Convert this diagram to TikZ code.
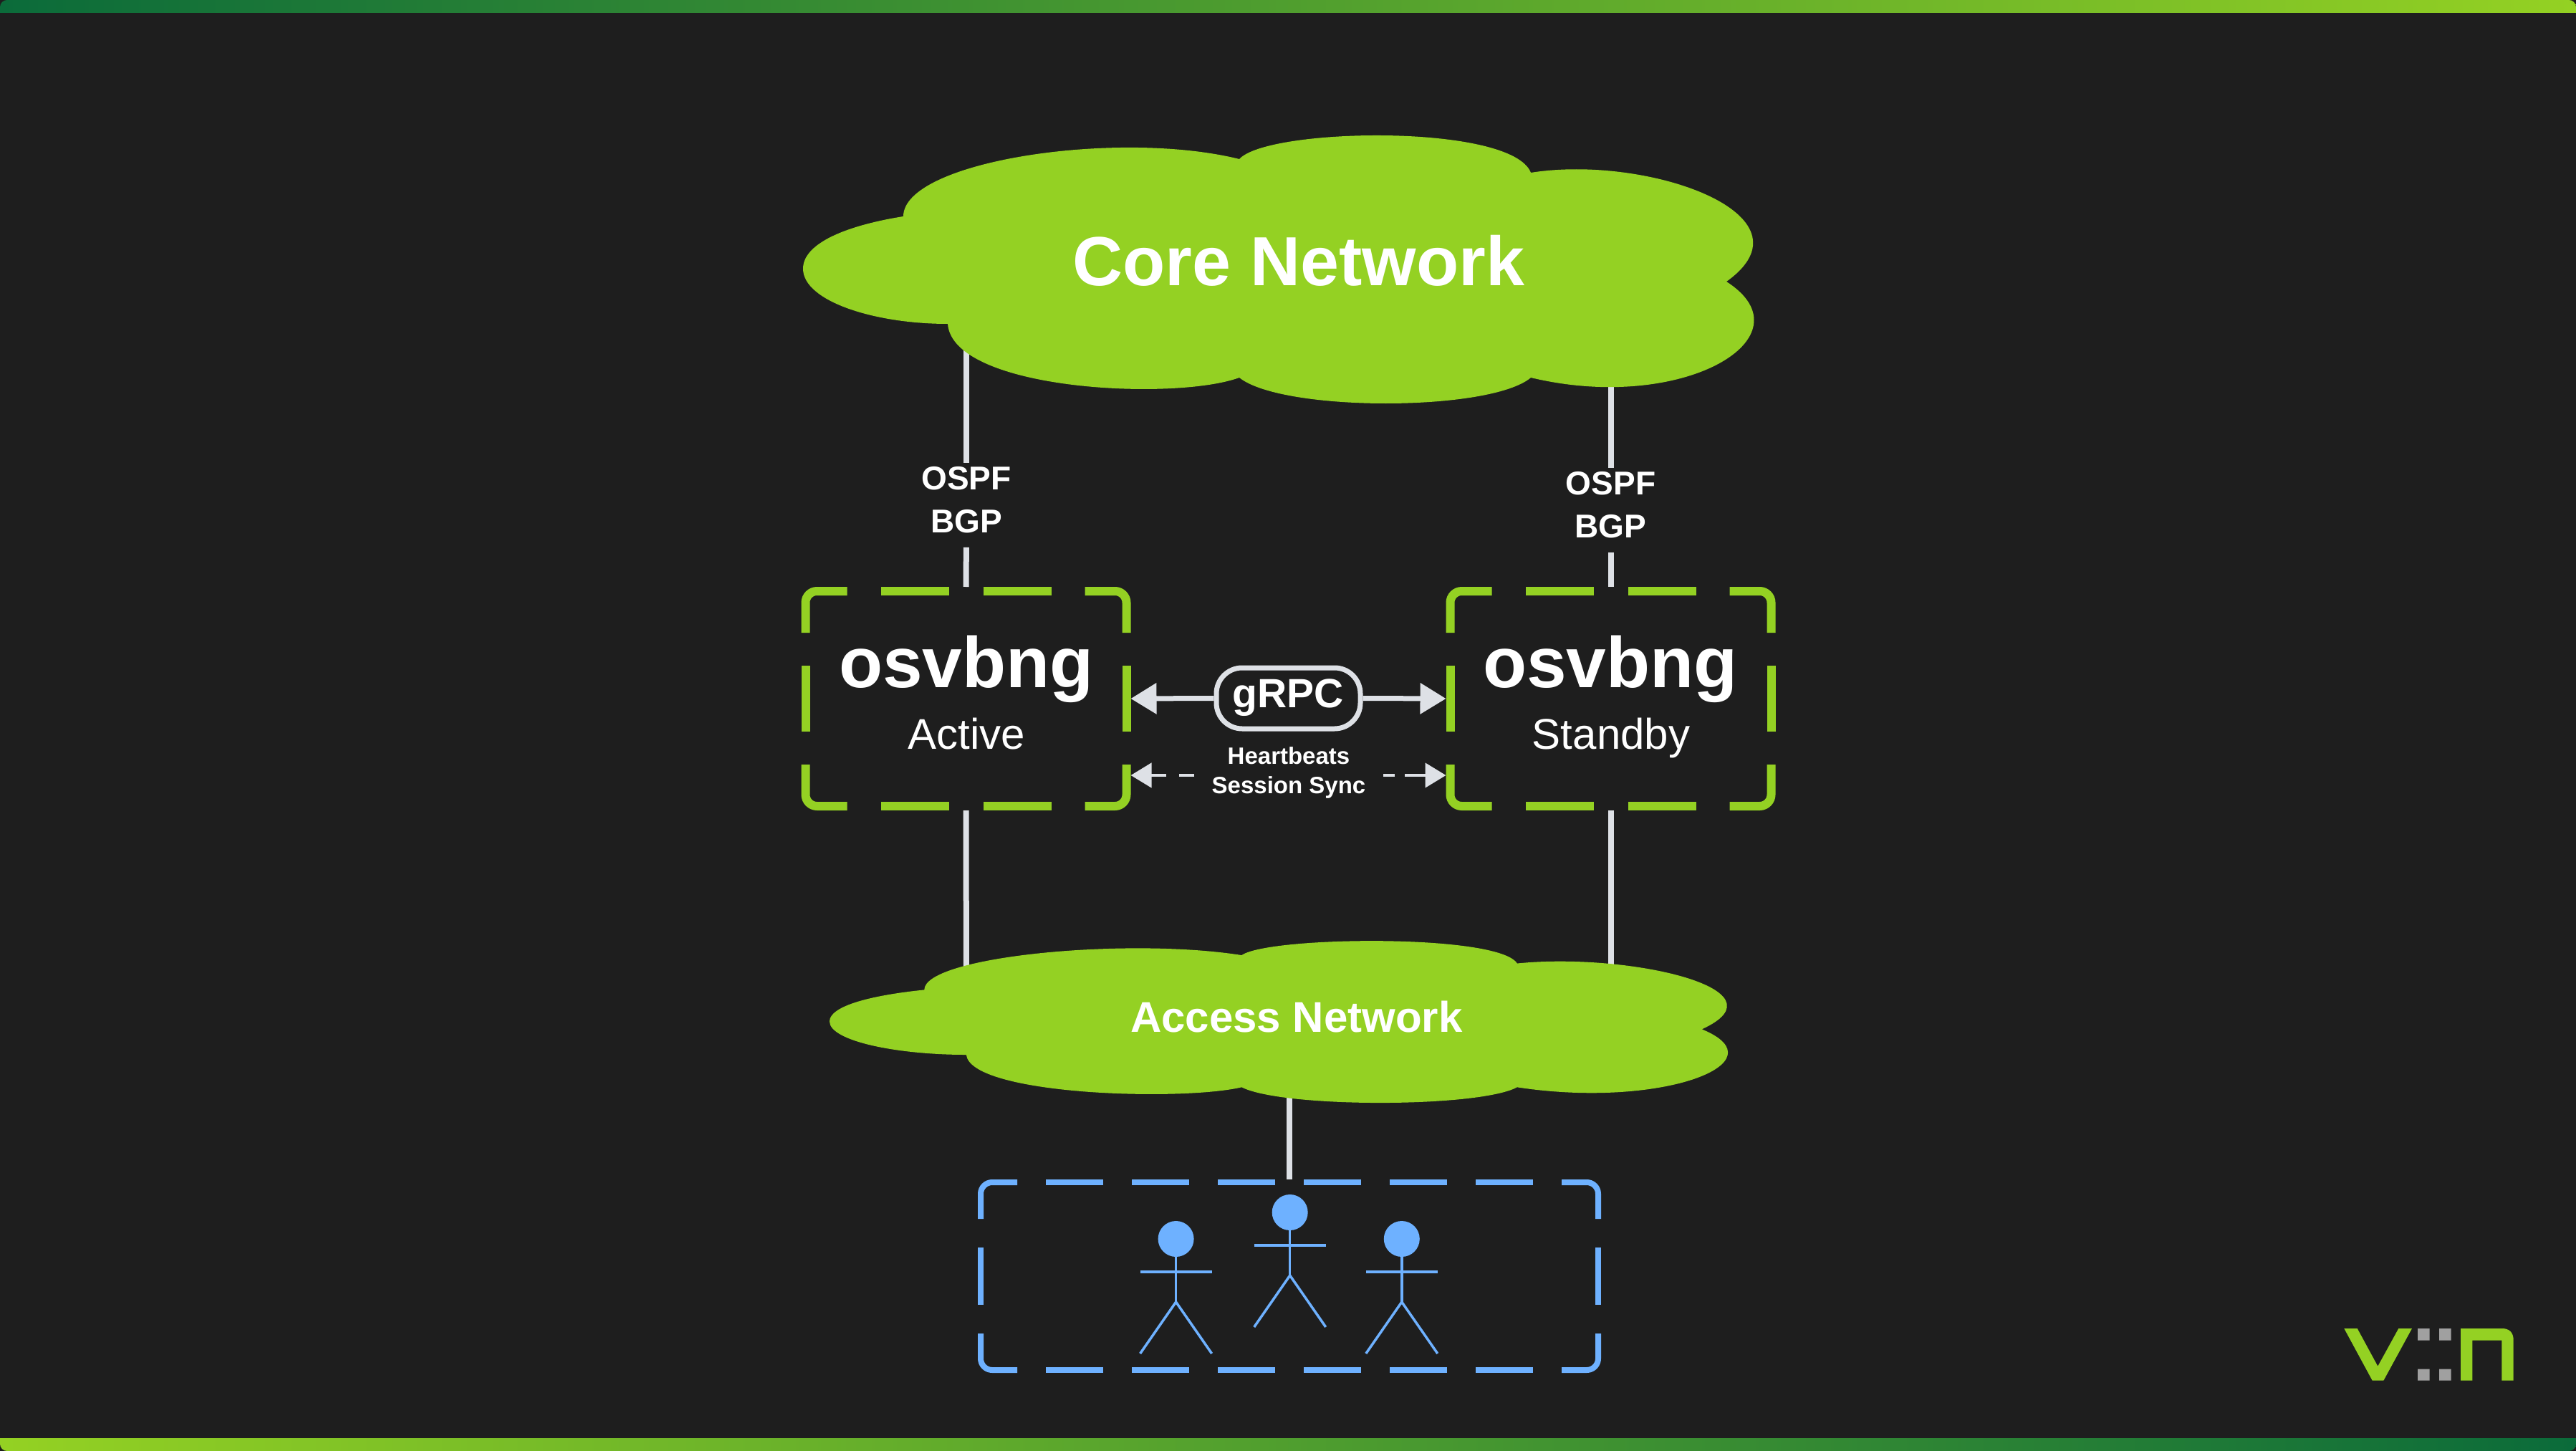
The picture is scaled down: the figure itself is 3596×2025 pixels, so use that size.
\documentclass[tikz,border=0pt]{standalone}
\usepackage{fontspec}
\setmainfont{Liberation Sans}
\usetikzlibrary{arrows.meta,calc}
\definecolor{bgc}{HTML}{1E1E1E}
\definecolor{lime}{HTML}{94D123}
\definecolor{deep}{HTML}{0B6B3A}
\definecolor{linec}{HTML}{DEE1E6}
\definecolor{sky}{HTML}{6EB1FF}
\definecolor{logogray}{HTML}{A0A0A0}
\newcommand{\fsz}[1]{\fontsize{#1}{#1}\selectfont}
\newcommand{\cloudpath}{%
  \fill[lime] (1261,302)
    .. controls (1261,225) and (1560,180) .. (1730,222)
    .. controls (1770,178) and (2110,172) .. (2137,241)
    .. controls (2300,215) and (2540,300) .. (2410,393)
    .. controls (2530,470) and (2350,578) .. (2137,527)
    .. controls (2080,575) and (1790,575) .. (1730,527)
    .. controls (1640,560) and (1330,545) .. (1323,452)
    .. controls (1220,452) and (1121,420) .. (1121,375)
    .. controls (1121,340) and (1180,315) .. (1261,302) -- cycle;}
% #1 style, #2 cx, #3 cy, #4 half w, #5 half h, #6 corner arm x, #7 corner arm y, #8 half side dash, #9 horizontal dash list
\newcommand{\dashframe}[9]{%
  \foreach \sx in {-1,1}{\foreach \sy in {-1,1}{%
    \draw[#1,rounded corners=16] ({#2+\sx*#6},{#3+\sy*#5}) -- ({#2+\sx*#4},{#3+\sy*#5}) -- ({#2+\sx*#4},{#3+\sy*#7});
    \foreach \da/\db in {#9}{\draw[#1] ({#2+\sx*\da},{#3+\sy*#5}) -- ({#2+\sx*\db},{#3+\sy*#5});}
  }
    \draw[#1] ({#2+\sx*#4},{#3-#8}) -- ({#2+\sx*#4},{#3+#8});
  }}
\newcommand{\person}[2]{%
  \fill[sky] (#1,#2) circle (25);
  \draw[stick] (#1,#2+25) -- (#1,#2+88) (#1-50,#2+46) -- (#1+50,#2+46);
  \draw[stick] (#1-50,#2+160) -- (#1,#2+88) -- (#1+50,#2+160);}
\tikzset{
  txt/.style={text=white,inner sep=0,outer sep=0},
  link/.style={draw=linec,line width=8},
  grframe/.style={draw=lime,line width=12},
  blframe/.style={draw=sky,line width=8},
  anchorbox/.style={inner sep=0,outer sep=0},
  stick/.style={draw=sky,line width=3.5},
  solidarrow/.style={draw=linec,line width=7,-{Triangle[length=36,width=42]}},
  syncarrow/.style={draw=linec,line width=4.5,-{Triangle[length=29,width=34]}},
}
\begin{document}
\begin{tikzpicture}[x=1pt,y=-1pt]
\useasboundingbox (0,0) rectangle (3596,2025);
\fill[bgc] (0,0) rectangle (3596,2025);
% bars
\path[left color=deep,right color=lime] (0,18) [rounded corners=10] -- (0,0) -- (3596,0) [sharp corners] -- (3596,18) -- cycle;
\path[left color=lime,right color=deep] (0,2007) -- (3596,2007) [rounded corners=10] -- (3596,2025) -- (0,2025) [sharp corners] -- cycle;
% anchors
\node[anchorbox,minimum width=460,minimum height=312] (boxL) at (1348.5,975) {};
\node[anchorbox,minimum width=460,minimum height=312] (boxR) at (2248.5,975) {};
\node[anchorbox,minimum width=870,minimum height=270] (users) at (1800,1781) {};
\coordinate (coreL) at (1349,480);
\coordinate (coreR) at (2248.5,490);
\coordinate (accL) at (1349,1400);
\coordinate (accR) at (2248.5,1400);
\coordinate (accB) at (1800,1500);
% protocol labels
\node[txt,align=center,font=\fsz{46}\bfseries] (ospfL) at (1349,697.5) {OSPF\\[14pt]BGP};
\node[txt,align=center,font=\fsz{46}\bfseries] (ospfR) at (2248.5,704.5) {OSPF\\[14pt]BGP};
% connectors
\draw[link,shorten >=5] (coreL) -- (ospfL.north);
\draw[link,shorten <=20] (ospfL.south) -- (boxL.north);
\draw[link,shorten >=5] (coreR) -- (ospfR.north);
\draw[link,shorten <=20] (ospfR.south) -- (boxR.north);
\draw[link] (boxL.south) -- (accL);
\draw[link] (boxR.south) -- (accR);
\draw[link] (accB) -- (users.north);
% clouds
\cloudpath
\begin{scope}[shift={(99,1199)},xscale=.9447,yscale=.604]
\cloudpath
\end{scope}
\node[txt,anchor=base,font=\fsz{97}\bfseries] (core) at (1813,399) {Core Network};
\node[txt,anchor=base,font=\fsz{60}\bfseries] (access) at (1810,1440) {Access Network};
% frames
\dashframe{grframe}{1348.5}{975}{224}{150}{166}{92}{46}{24/119,166/166}
\dashframe{grframe}{2248.5}{975}{224}{150}{166}{92}{46}{24/119,166/166}
\dashframe{blframe}{1800}{1781}{431}{131}{380}{80}{40}{20/100,140/220,260/340}
% titles
\node[txt,anchor=base,font=\fsz{100}\bfseries] (nameL) at (1349,959) {osvbng};
\node[txt,anchor=base,font=\fsz{100}\bfseries] (nameR) at (2248,959) {osvbng};
\node[txt,anchor=base,font=\fsz{60}] (stateL) at (1349,1045) {Active};
\node[txt,anchor=base,font=\fsz{60}] (stateR) at (2249,1045) {Standby};
% grpc
\node[draw=linec,line width=7,rounded corners=36,minimum width=201,minimum height=85,inner sep=0,text=white,font=\fsz{57}\bfseries,text height=36,text depth=11] (grpc) at (1798.5,974.5) {gRPC};
\draw[solidarrow] (grpc.west) -- (boxL.east);
\draw[solidarrow] (grpc.east) -- (boxR.west);
% sync
\node[txt,align=center,font=\fsz{33}\bfseries,minimum width=264] (sync) at (1799,1078) {Heartbeats\\[8pt]Session Sync};
\path (sync.west) ++(0,4) coordinate (syncW);
\path (sync.east) ++(0,4) coordinate (syncE);
\draw[syncarrow,dash pattern=on 21 off 18 on 60] (syncW) -- (syncW -| boxL.east);
\draw[syncarrow,dash pattern=on 16 off 14 on 60] (syncE) -- (syncE -| boxR.west);
% users
\person{1641.6}{1729}
\person{1800.7}{1692}
\person{1956.8}{1729}
% logo
\fill[lime] (3272.3,1854) -- (3290.7,1854) -- (3319.3,1906.7) -- (3348.3,1854) -- (3367,1854) -- (3327.3,1926.7) -- (3311.7,1926.7) -- cycle;
\fill[logogray] (3375,1854) rectangle (3391.7,1870.7) (3405,1854) rectangle (3421.7,1870.7) (3375,1910.7) rectangle (3391.7,1926.7) (3405,1910.7) rectangle (3421.7,1926.7);
\fill[lime] (3435,1926.7) -- (3435,1854) -- (3493,1854) .. controls (3503,1854) and (3508.7,1860) .. (3508.7,1870) -- (3508.7,1926.7) -- (3492.3,1926.7) -- (3492.3,1870.7) -- (3451.3,1870.7) -- (3451.3,1926.7) -- cycle;
\end{tikzpicture}
\end{document}
